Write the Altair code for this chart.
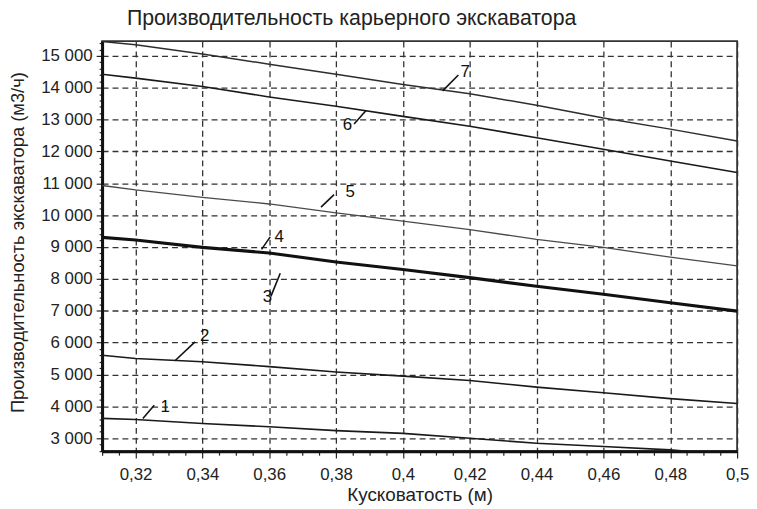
import altair as alt
import pandas as pd

# ---- data ----
X_VALUES = [0.31, 0.32, 0.34, 0.36, 0.38, 0.40, 0.42, 0.44, 0.46, 0.48, 0.50]

CURVE_1 = [3620, 3585, 3460, 3355, 3235, 3150, 2995, 2840, 2735, 2630, 2450]
CURVE_2 = [5600, 5500, 5395, 5245, 5075, 4945, 4810, 4600, 4425, 4240, 4085]
CURVE_3 = [9285, 9200, 8970, 8795, 8510, 8275, 8020, 7750, 7500, 7230, 6970]
CURVE_4 = [9320, 9235, 9005, 8830, 8545, 8310, 8055, 7785, 7535, 7265, 7005]
CURVE_5 = [10930, 10790, 10560, 10350, 10070, 9815, 9545, 9240, 8985, 8680, 8410]
CURVE_6 = [14420, 14300, 14040, 13710, 13420, 13100, 12790, 12430, 12070, 11700, 11340]
CURVE_7 = [15450, 15350, 15060, 14740, 14420, 14100, 13810, 13450, 13050, 12700, 12330]

CURVES = {"1": CURVE_1, "2": CURVE_2, "3": CURVE_3, "4": CURVE_4,
          "5": CURVE_5, "6": CURVE_6, "7": CURVE_7}
CURVE_COLORS = {"1": "#1a1a1a", "2": "#1a1a1a", "3": "#111111", "4": "#111111",
                "5": "#4a4a4a", "6": "#1a1a1a", "7": "#2e2e2e"}
CURVE_WIDTHS = {"1": 1.6, "2": 1.6, "3": 2.0, "4": 2.0, "5": 1.3, "6": 1.6, "7": 1.5}

# curve number labels (text position) and leader lines (data coordinates)
LABEL_TEXT = ["1", "2", "3", "4", "5", "6", "7"]
LABEL_X = [0.3289, 0.3407, 0.3595, 0.3630, 0.3842, 0.3834, 0.4186]
LABEL_Y = [3980, 6207, 7440, 9298, 10716, 12843, 14479]
LEADER_X1 = [0.3222, 0.3318, 0.3605, 0.3577, 0.3755, 0.3854, 0.4119]
LEADER_Y1 = [3616, 5429, 7451, 8925, 10250, 12862, 13901]
LEADER_X2 = [0.3256, 0.3378, 0.3633, 0.3603, 0.3794, 0.3889, 0.4166]
LEADER_Y2 = [4030, 6020, 8178, 9317, 10645, 13279, 14398]

X_DOMAIN = [0.31, 0.50]
Y_DOMAIN = [2590, 15465]
X_TICKS = [round(0.31 + 0.005 * i, 3) for i in range(39)]
Y_TICKS = [2600 + 200 * i for i in range(65)]

TITLE = "Производительность карьерного экскаватора"
X_TITLE = "Кусковатость (м)"
Y_TITLE = "Производительность экскаватора (м3/ч)"

FONT = "Liberation Sans"

rows = []
for name, vals in CURVES.items():
    for x, y in zip(X_VALUES, vals):
        rows.append({"curve": name, "x": x, "y": y,
                     "color": CURVE_COLORS[name], "w": CURVE_WIDTHS[name]})
lines_df = pd.DataFrame(rows)

labels_df = pd.DataFrame({"t": LABEL_TEXT, "x": LABEL_X, "y": LABEL_Y})
leaders_df = pd.DataFrame({"x": LEADER_X1, "y": LEADER_Y1, "x2": LEADER_X2, "y2": LEADER_Y2})

x_major = "abs(datum.value*50 - round(datum.value*50)) < 1e-6"
y_major = "datum.value % 1000 == 0"

x_scale = alt.Scale(domain=X_DOMAIN, nice=False, zero=False)
y_scale = alt.Scale(domain=Y_DOMAIN, nice=False, zero=False)

x_axis = alt.Axis(
    values=X_TICKS, tickCount=200, format=".2~f", title=X_TITLE,
    labelExpr=f"{x_major} ? datum.label : ''",
    labelOverlap=False, labelFont=FONT, labelFontSize=17, labelColor="#222",
    labelPadding=9, labelFlush=False,
    titleFont=FONT, titleFontSize=19, titleFontWeight="normal", titleColor="#222",
    titlePadding=3,
    domainColor="#111", domainWidth=3,
    tickColor="#222", tickWidth=1.2,
    tickSize={"condition": {"test": x_major, "value": 7}, "value": 4},
    grid=True, gridColor="#333", gridWidth=1.3, gridDash=[6, 4],
    gridOpacity={"condition": {"test": x_major, "value": 1}, "value": 0},
)
y_axis = alt.Axis(
    values=Y_TICKS, tickCount=200, format=",d", title=Y_TITLE,
    labelExpr=f"{y_major} ? datum.label : ''",
    labelOverlap=False, labelFont=FONT, labelFontSize=17, labelColor="#222",
    labelPadding=4, labelFlush=False,
    titleFont=FONT, titleFontSize=18.5, titleFontWeight="normal", titleColor="#222",
    titleX=-79, titleY=203, titleBaseline="alphabetic",
    domainColor="#111", domainWidth=3,
    tickColor="#222", tickWidth=1.2,
    tickSize={"condition": {"test": y_major, "value": 6}, "value": 3},
    grid=True, gridColor="#333", gridWidth=1.3, gridDash=[6, 4],
    gridOpacity={"condition": {"test": y_major, "value": 1}, "value": 0},
)

lines = alt.Chart(lines_df).mark_line(clip=True).encode(
    x=alt.X("x:Q", scale=x_scale, axis=x_axis),
    y=alt.Y("y:Q", scale=y_scale, axis=y_axis),
    detail="curve:N",
    color=alt.Color("color:N", scale=None),
    strokeWidth=alt.StrokeWidth("w:Q", scale=None),
)

leaders = alt.Chart(leaders_df).mark_rule(color="#111", strokeWidth=1.6).encode(
    x="x:Q", y="y:Q", x2="x2:Q", y2="y2:Q",
)

labels = alt.Chart(labels_df).mark_text(
    font=FONT, fontSize=17, color="#111", align="center", baseline="middle"
).encode(x="x:Q", y="y:Q", text="t:N")

chart = alt.layer(lines, leaders, labels).properties(
    width=641, height=414,
    autosize=alt.AutoSizeParams(type="none"),
    padding={"left": 95, "top": 31, "right": 12, "bottom": 55},
    title=alt.Title(TITLE, anchor="start", frame="group", dx=25, dy=3, offset=8,
                    font=FONT, fontSize=21.5,
                    fontWeight="normal", color="#222"),
).configure(
    locale={"number": {"decimal": ",", "thousands": " ", "grouping": [3],
                       "currency": ["", ""]}}
).configure_view(stroke="#333", strokeWidth=1.8)

chart.save("out.html", embed_options={"renderer": "svg", "actions": False})
